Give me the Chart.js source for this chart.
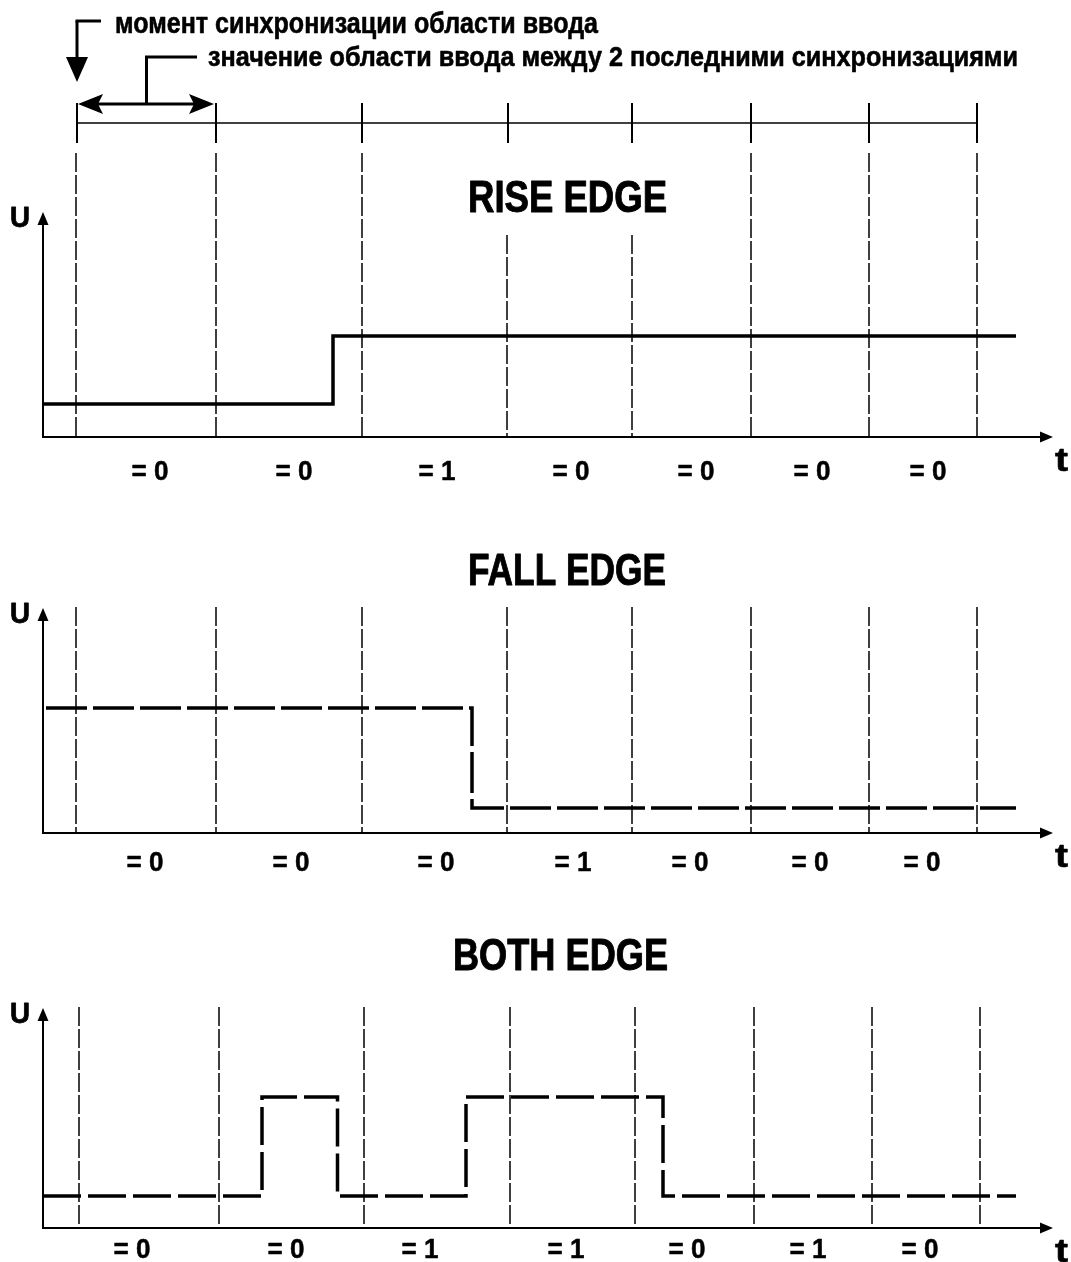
<!DOCTYPE html>
<html><head><meta charset="utf-8">
<script src="https://cdn.jsdelivr.net/npm/chart.js@4.4.1/dist/chart.umd.min.js"></script>
<style>html,body{margin:0;padding:0;background:#fff;}canvas{display:block;}</style>
</head><body>
<canvas id="c" width="1071" height="1262"></canvas>
<script>
// ---------- data (time t and voltage U in arbitrary units) ----------
const headerSync = [3.4, 17.3, 31.9, 46.5, 58.9, 70.8, 82.6, 93.4];

const riseSync    = [3.3, 17.3, 31.9, 46.4, 58.9, 70.8, 82.6, 93.4];
const riseSyncTop = [28.4, 28.4, 28.4, 20.2, 20.2, 28.4, 28.4, 28.4];
const fallSync    = [3.3, 17.3, 31.9, 46.4, 58.9, 70.8, 82.6, 93.4];
const fallSyncTop = [22.6, 22.6, 22.6, 22.6, 22.6, 22.6, 22.6, 22.6];
const bothSync    = [3.6, 17.6, 32.1, 46.7, 59.2, 71.1, 82.9, 93.7];
const bothSyncTop = [22.1, 22.1, 22.1, 22.1, 22.1, 22.1, 22.1, 22.1];

const riseT = [0, 29.0, 97.3];
const riseU = [3.3, 10.1, 10.1];
const fallT = [0.3, 42.9, 97.3];
const fallU = [12.5, 2.5, 2.5];
const bothT = [0, 21.9, 29.45, 42.3, 62.0, 97.3];
const bothU = [3.2, 13.1, 3.2, 13.1, 3.2, 3.2];

const riseLabelT = [10.7, 25.1, 39.4, 52.8, 65.3, 76.9, 88.5];
const riseVals   = [0, 0, 1, 0, 0, 0, 0];
const fallLabelT = [10.2, 24.8, 39.3, 53.0, 64.7, 76.7, 87.9];
const fallVals   = [0, 0, 0, 1, 0, 0, 0];
const bothLabelT = [8.9, 24.3, 37.7, 52.3, 64.4, 76.5, 87.7];
const bothVals   = [0, 0, 1, 1, 0, 1, 0];

const titles = ['RISE EDGE', 'FALL EDGE', 'BOTH EDGE'];
const headerText1 = 'момент синхронизации области ввода';
const headerText2 = 'значение области ввода между 2 последними синхронизациями';
const tAxisEnd = 101.0;
const uAxisTop = [22.5, 22.5, 22.0];

// ---------- layout ----------
const W = 1071, H = 1262, PX = 10, T0PX = 43;
function yScale(zeroPx) { return { type: 'linear', display: false, min: (zeroPx - H) / PX, max: zeroPx / PX }; }
function series(T, U) { return T.map((t, i) => ({ x: t, y: U[i] })); }
function verticals(times, tops, bottom) {
  const d = [];
  times.forEach((t, i) => { d.push({ x: t, y: Array.isArray(tops) ? tops[i] : tops }, { x: t, y: bottom }, { x: t, y: null }); });
  return d;
}
const FONT = '"Liberation Sans", Arial, sans-serif';
function txt(ctx, s, x, y, size, width, align, stroke) {
  ctx.save();
  ctx.font = 'bold ' + size + 'px ' + FONT;
  ctx.textAlign = 'left'; ctx.textBaseline = 'alphabetic';
  const m = ctx.measureText(s).width;
  const sx = width ? width / m : 1;
  const left = align === 'center' ? x - m * sx / 2 : x;
  ctx.translate(left, y); ctx.scale(sx, 1);
  ctx.fillStyle = '#000'; ctx.fillText(s, 0, 0);
  if (stroke) { ctx.strokeStyle = '#000'; ctx.lineWidth = stroke; ctx.lineJoin = 'round'; ctx.strokeText(s, 0, 0); }
  ctx.restore();
}
function head(ctx, tx, ty, dx, dy, len, half, notch) {
  const bx = tx - dx * len, by = ty - dy * len, px = -dy, py = dx;
  ctx.beginPath(); ctx.moveTo(tx, ty);
  ctx.lineTo(bx + px * half, by + py * half);
  if (notch) ctx.lineTo(tx - dx * len * notch, ty - dy * len * notch);
  ctx.lineTo(bx - px * half, by - py * half);
  ctx.closePath(); ctx.fill();
}
function seg(ctx, x1, y1, x2, y2) { ctx.beginPath(); ctx.moveTo(x1, y1); ctx.lineTo(x2, y2); ctx.stroke(); }

const drawPlugin = {
  id: 'diagram',
  afterDatasetsDraw(chart) {
    const ctx = chart.ctx, xs = chart.scales.x;
    ctx.save();
    ctx.strokeStyle = '#000'; ctx.fillStyle = '#000'; ctx.lineCap = 'butt';
    // header
    const yh = chart.scales.yH;
    const s0 = xs.getPixelForValue(headerSync[0]), s1 = xs.getPixelForValue(headerSync[1]);
    const mid = (s0 + s1) / 2;
    ctx.lineWidth = 3;
    const l1 = yh.getPixelForValue(10.2), tip1 = yh.getPixelForValue(4.1);
    seg(ctx, s0 - 1.5, l1, xs.getPixelForValue(5.8), l1);
    seg(ctx, s0, l1, s0, tip1 - 20);
    head(ctx, s0, tip1, 0, 1, 25, 11, 0);
    const l2 = yh.getPixelForValue(6.6), da = yh.getPixelForValue(1.9);
    seg(ctx, mid - 1.5, l2, xs.getPixelForValue(15.4), l2);
    seg(ctx, mid, l2, mid, da);
    seg(ctx, s0 + 15, da, s1 - 16, da);
    head(ctx, s0 + 1, da, -1, 0, 25, 10, 0.8);
    head(ctx, s1 - 2, da, 1, 0, 25, 10, 0.8);
    txt(ctx, headerText1, 115, 33, 29, 483, 'left', 0.6);
    txt(ctx, headerText2, 208, 66, 28, 810, 'left', 0.6);

    // panels
    const panels = [
      { y: 'y1', labels: riseLabelT, vals: riseVals, lab: 43, title: [468, 212, 199] },
      { y: 'y2', labels: fallLabelT, vals: fallVals, lab: 38, title: [468, 585, 198] },
      { y: 'y3', labels: bothLabelT, vals: bothVals, lab: 30, title: [453, 970, 215] }
    ];
    panels.forEach((p, i) => {
      const ys = chart.scales[p.y];
      const x0 = xs.getPixelForValue(0), y0 = ys.getPixelForValue(0);
      const xe = xs.getPixelForValue(tAxisEnd), yt = ys.getPixelForValue(uAxisTop[i]);
      ctx.lineWidth = 2;
      seg(ctx, x0, y0, xe - 8, y0);
      seg(ctx, x0, y0 + 1, x0, yt + 8);
      head(ctx, xe, y0, 1, 0, 13, 5.5, 0);
      head(ctx, x0, yt, 0, -1, 13, 5.5, 0);
      txt(ctx, 'U', 10, yt + 15, 29, 20, 'left', 0.8);
      txt(ctx, 't', 1055, y0 + 34, 33, 13, 'left', 0.6);
      p.labels.forEach((t, k) => txt(ctx, '= ' + p.vals[k], xs.getPixelForValue(t), y0 + p.lab, 28, 37, 'center', 0.5));
      txt(ctx, titles[i], p.title[0], p.title[1], 45, p.title[2], 'left', 1);
    });
    ctx.restore();
  }
};

const thin = { borderColor: '#000', borderWidth: 1.5, pointRadius: 0, tension: 0, fill: false, spanGaps: false, borderCapStyle: 'butt' };
const sig = { borderColor: '#000', borderWidth: 3.5, pointRadius: 0, tension: 0, fill: false, stepped: 'before', borderCapStyle: 'butt', borderJoinStyle: 'miter' };

new Chart(document.getElementById('c'), {
  type: 'line',
  data: {
    datasets: [
      Object.assign({ data: [{ x: headerSync[0], y: 0 }, { x: headerSync[headerSync.length - 1], y: 0 }], yAxisID: 'yH' }, thin, { borderWidth: 1.7 }),
      Object.assign({ data: verticals(headerSync, 2, -2), yAxisID: 'yH' }, thin, { borderWidth: 2 }),
      Object.assign({ data: verticals(riseSync, riseSyncTop, 0), yAxisID: 'y1', borderDash: [19, 3] }, thin),
      Object.assign({ data: verticals(fallSync, fallSyncTop, 0), yAxisID: 'y2', borderDash: [19, 3] }, thin),
      Object.assign({ data: verticals(bothSync, bothSyncTop, 0), yAxisID: 'y3', borderDash: [19, 3] }, thin),
      Object.assign({ data: series(riseT, riseU), yAxisID: 'y1' }, sig),
      Object.assign({ data: series(fallT, fallU), yAxisID: 'y2', borderDash: [41, 6] }, sig),
      Object.assign({ data: series(bothT, bothU), yAxisID: 'y3', borderDash: [38, 7] }, sig)
    ]
  },
  options: {
    responsive: false, animation: false, events: [],
    layout: { padding: 0 },
    plugins: { legend: { display: false }, tooltip: { enabled: false }, title: { display: false } },
    scales: {
      x: { type: 'linear', display: false, min: -T0PX / PX, max: (W - T0PX) / PX },
      yH: yScale(123),
      y1: yScale(437),
      y2: yScale(833),
      y3: yScale(1228)
    }
  },
  plugins: [drawPlugin]
});
</script>
</body></html>
